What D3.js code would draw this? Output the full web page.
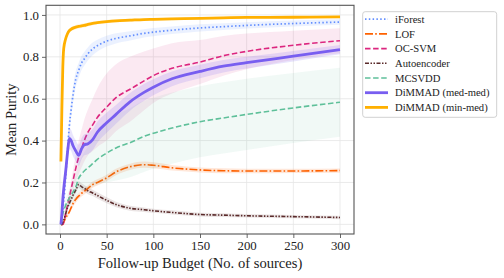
<!DOCTYPE html>
<html><head><meta charset="utf-8">
<script src="https://cdn.jsdelivr.net/npm/d3@7"></script>
<style>body{margin:0;background:#fff}svg{display:block}</style>
</head><body>
<svg id="c" width="504" height="278"></svg>
<script>
const budget = [1,2,3,4,6,8,10,12,14,17,20,23,26,30,35,40,50,60,75,90,100,120,150,175,200,250,300];
const iforest     = [0,0.03,0.07,0.11,0.22,0.35,0.47,0.55,0.62,0.695,0.735,0.77,0.79,0.815,0.838,0.853,0.875,0.888,0.9,0.912,0.918,0.927,0.938,0.944,0.95,0.959,0.966];
const iforestSd   = [0.01,0.015,0.02,0.025,0.035,0.04,0.04,0.04,0.04,0.038,0.036,0.034,0.033,0.031,0.03,0.028,0.026,0.024,0.022,0.02,0.02,0.018,0.017,0.016,0.015,0.014,0.013];
const lof         = [0,0,0,0.01,0.03,0.045,0.06,0.08,0.1,0.12,0.135,0.148,0.158,0.172,0.19,0.2,0.222,0.25,0.275,0.285,0.282,0.27,0.26,0.256,0.255,0.255,0.257];
const lofSd       = [0.005,0.005,0.005,0.008,0.01,0.012,0.013,0.014,0.015,0.015,0.015,0.015,0.015,0.015,0.015,0.015,0.015,0.015,0.015,0.015,0.014,0.013,0.012,0.012,0.011,0.01,0.01];
const ocsvm       = [0,0,0,0.01,0.05,0.09,0.13,0.17,0.21,0.27,0.32,0.36,0.4,0.44,0.475,0.51,0.56,0.605,0.645,0.685,0.71,0.745,0.775,0.805,0.826,0.855,0.877];
const ocsvmSd     = [0.01,0.01,0.015,0.02,0.02,0.025,0.03,0.04,0.05,0.065,0.08,0.09,0.1,0.11,0.125,0.14,0.16,0.16,0.155,0.14,0.13,0.12,0.105,0.095,0.085,0.07,0.06];
const autoenc     = [0,0,0.01,0.02,0.05,0.08,0.1,0.12,0.14,0.165,0.19,0.18,0.172,0.16,0.15,0.138,0.115,0.095,0.077,0.07,0.065,0.057,0.047,0.044,0.041,0.037,0.033];
const autoencSd   = [0.005,0.005,0.008,0.01,0.012,0.014,0.015,0.015,0.015,0.016,0.016,0.016,0.016,0.016,0.015,0.015,0.014,0.013,0.012,0.011,0.01,0.01,0.009,0.009,0.008,0.008,0.008];
const mcsvdd      = [0,0.02,0.05,0.065,0.09,0.11,0.125,0.14,0.155,0.18,0.22,0.24,0.255,0.27,0.29,0.31,0.34,0.365,0.39,0.42,0.435,0.46,0.49,0.508,0.525,0.556,0.583];
const mcsvddSd    = [0.01,0.015,0.02,0.025,0.03,0.035,0.04,0.045,0.05,0.06,0.07,0.08,0.09,0.1,0.11,0.12,0.14,0.155,0.165,0.17,0.17,0.17,0.17,0.17,0.17,0.167,0.165];
const medmed      = [0,0.05,0.12,0.17,0.25,0.34,0.41,0.4,0.375,0.35,0.33,0.36,0.38,0.385,0.405,0.44,0.485,0.525,0.585,0.63,0.655,0.695,0.73,0.755,0.772,0.803,0.834];
const medmedSd    = [0.01,0.02,0.03,0.04,0.045,0.05,0.05,0.05,0.05,0.05,0.05,0.05,0.05,0.05,0.05,0.05,0.048,0.045,0.042,0.04,0.038,0.035,0.032,0.03,0.028,0.025,0.022];
const minmed      = [0.3,0.55,0.75,0.84,0.885,0.91,0.925,0.932,0.937,0.942,0.945,0.948,0.95,0.955,0.96,0.963,0.968,0.972,0.975,0.978,0.979,0.981,0.984,0.986,0.988,0.989,0.991];
const minmedSd    = [0.03,0.03,0.025,0.02,0.015,0.012,0.01,0.01,0.01,0.01,0.01,0.01,0.01,0.009,0.009,0.008,0.008,0.007,0.007,0.006,0.006,0.006,0.005,0.005,0.005,0.005,0.005];
const seriesNames = ["iForest","LOF","OC-SVM","Autoencoder","MCSVDD","DiMMAD (med-med)","DiMMAD (min-med)"];
const xTicks = [0,50,100,150,200,250,300];
const yTicks = [0.0,0.2,0.4,0.6,0.8,1.0];

const styles = [
  {color:"#648FFF", w:1.7, dash:"1.5,2.3", bandOp:0.13},
  {color:"#FE6100", w:1.6, dash:"8,2.2,1.6,2.2", bandOp:0.15},
  {color:"#DC267F", w:1.6, dash:"5.5,2.6", bandOp:0.1},
  {color:"#5a2a2a", w:1.6, dash:"4,1.5,1.5,1.5,1.5,1.5", bandOp:0.12},
  {color:"#5fc09a", w:1.6, dash:"5.5,2.6", bandOp:0.09},
  {color:"#785EF0", w:2.8, dash:null, bandOp:0.16},
  {color:"#FFB000", w:2.8, dash:null, bandOp:0.15}
];
const means = [iforest,lof,ocsvm,autoenc,mcsvdd,medmed,minmed];
const sds = [iforestSd,lofSd,ocsvmSd,autoencSd,mcsvddSd,medmedSd,minmedSd];

const L=46, R=354, T=5.3, B=234;
const x = d3.scaleLinear().domain([-15,315]).range([L,R]);
const y = d3.scaleLinear().domain([-0.046,1.046]).range([B,T]);
const svg = d3.select("#c");
const font = "'Liberation Serif', 'Times New Roman', serif";

svg.append("defs").append("clipPath").attr("id","clip").append("rect")
  .attr("x",L).attr("y",T).attr("width",R-L).attr("height",B-T);

const grid = svg.append("g");
xTicks.forEach(t=>grid.append("line").attr("x1",x(t)).attr("x2",x(t)).attr("y1",T).attr("y2",B)
  .attr("stroke","#e6e6e6").attr("stroke-width",0.8));
yTicks.forEach(t=>grid.append("line").attr("x1",L).attr("x2",R).attr("y1",y(t)).attr("y2",y(t))
  .attr("stroke","#e6e6e6").attr("stroke-width",0.8));

const plot = svg.append("g").attr("clip-path","url(#clip)");
means.forEach((m,i)=>{
  const pts = budget.map((b,j)=>({b, m:m[j], s:sds[i][j]}));
  const area = d3.area().x(d=>x(d.b)).y0(d=>y(Math.max(0,d.m-d.s))).y1(d=>y(Math.min(1,d.m+d.s))).curve(d3.curveMonotoneX);
  plot.append("path").attr("d",area(pts)).attr("fill",styles[i].color).attr("fill-opacity",styles[i].bandOp);
  const line = d3.line().x(d=>x(d.b)).y(d=>y(d.m)).curve(d3.curveMonotoneX);
  const p = plot.append("path").attr("d",line(pts)).attr("fill","none")
    .attr("stroke",styles[i].color).attr("stroke-width",styles[i].w).attr("stroke-linejoin","round");
  if(styles[i].dash) p.attr("stroke-dasharray",styles[i].dash);
});

svg.append("rect").attr("x",L).attr("y",T).attr("width",R-L).attr("height",B-T)
  .attr("fill","none").attr("stroke","#555").attr("stroke-width",1.1);

const xa = svg.append("g").attr("transform",`translate(0,${B})`)
  .call(d3.axisBottom(x).tickValues(xTicks).tickSize(4).tickPadding(3).tickFormat(d3.format("d")));
const ya = svg.append("g").attr("transform",`translate(${L},0)`)
  .call(d3.axisLeft(y).tickValues(yTicks).tickSize(4).tickPadding(3).tickFormat(d3.format(".1f")));
[xa,ya].forEach(a=>{
  a.attr("font-family",null).attr("font-size",null);
  a.select(".domain").remove();
  a.selectAll("line").attr("stroke","#555").attr("stroke-width",0.9);
  a.selectAll("text").style("font-family",font).style("font-size","12.8px").attr("fill","#222");
});

svg.append("text").attr("x",(L+R)/2).attr("y",268).attr("text-anchor","middle")
  .style("font-family",font).style("font-size","14.6px").attr("fill","#222").text("Follow-up Budget (No. of sources)");
svg.append("text").attr("transform",`translate(16,${(T+B)/2}) rotate(-90)`).attr("text-anchor","middle")
  .style("font-family",font).style("font-size","14.6px").attr("fill","#222").text("Mean Purity");

const lg = svg.append("g");
lg.append("rect").attr("x",362.7).attr("y",11.7).attr("width",134).attr("height",105.6).attr("rx",2.5)
  .attr("fill","#fff").attr("fill-opacity",0.8).attr("stroke","#cccccc").attr("stroke-width",0.9);
seriesNames.forEach((n,i)=>{
  const cy = 19.2 + i*14.7;
  const l = lg.append("line").attr("x1",365).attr("x2",388).attr("y1",cy).attr("y2",cy)
    .attr("stroke",styles[i].color).attr("stroke-width",styles[i].w);
  if(styles[i].dash) l.attr("stroke-dasharray",styles[i].dash);
  lg.append("text").attr("x",395).attr("y",cy+3.6).style("font-family",font).style("font-size","10.6px")
    .attr("fill","#222").text(n);
});
</script>
</body></html>
